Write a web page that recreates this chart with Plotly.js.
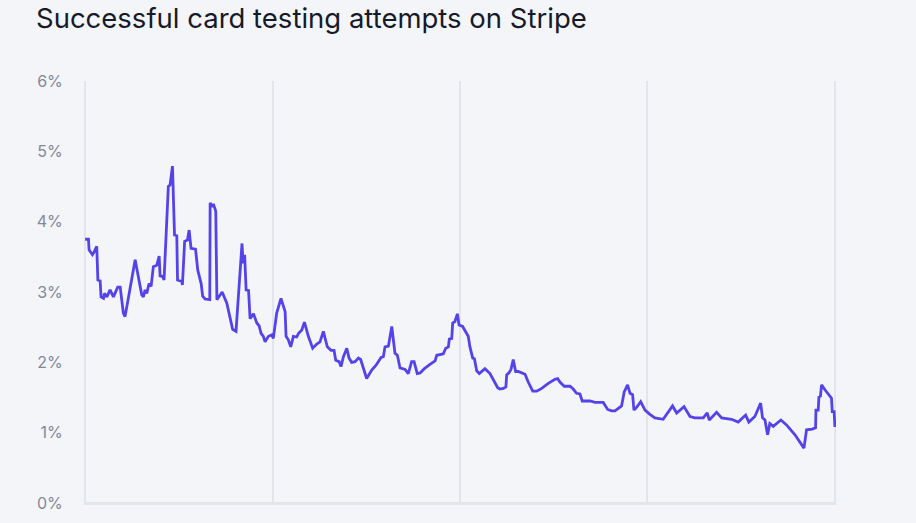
<!DOCTYPE html>
<html>
<head>
<meta charset="utf-8">
<script src="https://cdn.plot.ly/plotly-3.0.1.min.js"></script>
<style>
html,body{margin:0;padding:0;background:#f4f5f9;}
#chart{width:916px;height:523px;}
</style>
</head>
<body>
<div id="chart"></div>
<script>
// Time position (0..400, gridlines every 100) and share of successful card testing attempts (%)
const timeIndex = [0.0,1.8,2.1,3.9,4.8,6.2,6.8,8.0,8.5,9.8,10.3,11.6,13.3,15.1,17.4,18.7,20.4,21.3,26.7,30.2,31.1,32.0,32.9,34.1,35.2,36.4,38.2,39.5,40.0,41.4,42.1,44.4,45.3,46.6,47.7,48.9,49.3,51.6,51.9,53.1,54.6,55.5,56.5,58.9,60.1,61.9,62.7,64.0,66.5,66.7,67.6,68.4,69.7,70.3,73.1,75.6,78.7,80.5,83.7,84.3,85.1,85.9,87.2,88.0,89.8,91.6,92.8,93.9,95.1,96.0,96.8,97.8,99.6,100.4,102.2,104.5,106.7,107.2,108.4,109.7,111.1,112.9,113.8,115.6,117.0,119.1,121.4,123.6,125.3,127.1,129.2,131.2,132.8,133.7,135.5,136.5,137.8,139.6,140.8,142.2,144.0,145.8,147.0,148.4,150.2,152.9,155.2,157.9,159.1,160.0,161.8,163.6,165.3,166.6,168.0,170.7,172.4,174.2,175.5,176.5,177.2,178.7,181.0,184.0,186.7,187.6,191.1,192.4,193.8,194.3,195.6,196.1,197.3,198.6,199.5,201.4,202.7,204.4,205.3,206.8,207.7,208.9,210.3,213.3,216.0,217.8,220.1,221.3,223.1,224.5,224.9,226.1,227.2,228.4,229.7,231.1,234.7,236.4,238.8,240.9,243.6,247.1,250.7,252.1,253.3,255.6,258.7,260.4,262.2,264.0,265.2,266.7,269.3,272.0,276.4,278.8,280.9,282.7,286.2,287.6,289.4,290.7,292.1,292.8,294.2,296.4,298.7,301.3,304.0,308.4,313.4,315.6,319.5,322.7,325.3,329.8,331.9,333.0,336.9,339.6,344.9,348.4,352.4,354.1,357.3,360.4,361.4,362.7,364.1,365.3,367.1,371.2,374.2,378.7,383.5,384.9,387.9,389.7,389.9,391.1,391.5,392.3,392.9,394.7,398.2,398.6,399.6,400.0];
const successRate = [3.75,3.75,3.60,3.53,3.57,3.65,3.17,3.16,2.93,2.91,2.98,2.93,3.03,2.93,3.07,3.07,2.70,2.65,3.46,2.96,2.93,3.03,2.98,3.12,3.08,3.36,3.38,3.51,3.23,3.22,3.17,4.50,4.52,4.79,3.81,3.80,3.17,3.15,3.10,3.72,3.74,3.88,3.62,3.61,3.31,3.12,2.94,2.90,2.89,4.27,4.21,4.25,4.15,2.89,3.00,2.84,2.47,2.44,3.69,3.41,3.53,3.03,3.02,2.62,2.69,2.56,2.52,2.41,2.37,2.29,2.33,2.37,2.39,2.34,2.70,2.91,2.72,2.37,2.32,2.22,2.37,2.36,2.41,2.46,2.57,2.37,2.20,2.26,2.29,2.44,2.22,2.17,2.17,2.03,2.01,1.94,2.08,2.20,2.06,2.00,2.01,2.06,2.04,1.92,1.77,1.89,1.96,2.07,2.08,2.22,2.23,2.51,2.13,2.10,1.92,1.90,1.84,2.01,2.01,1.91,1.84,1.85,1.91,1.97,2.02,2.10,2.12,2.20,2.22,2.33,2.34,2.56,2.58,2.69,2.53,2.51,2.44,2.37,2.22,2.06,2.05,1.88,1.84,1.91,1.84,1.75,1.64,1.62,1.63,1.65,1.82,1.85,1.90,2.04,1.87,1.87,1.83,1.72,1.59,1.59,1.63,1.70,1.76,1.77,1.72,1.66,1.66,1.62,1.56,1.55,1.45,1.45,1.45,1.43,1.43,1.33,1.31,1.31,1.38,1.58,1.68,1.56,1.54,1.32,1.36,1.44,1.32,1.26,1.21,1.19,1.38,1.28,1.37,1.23,1.21,1.21,1.28,1.18,1.29,1.21,1.19,1.15,1.25,1.15,1.23,1.42,1.21,1.18,0.97,1.13,1.09,1.18,1.11,0.97,0.78,1.04,1.05,1.07,1.32,1.32,1.51,1.52,1.68,1.61,1.49,1.30,1.30,1.08];
const yTickValues = [0,1,2,3,4,5,6];
const yTickLabels = ['0%','1%','2%','3%','4%','5%','6%'];
const xGridValues = [0,100,200,300,400];

const trace = {
  x: timeIndex,
  y: successRate,
  type: 'scatter',
  mode: 'lines',
  line: {color: '#5443ea', width: 2.8, shape: 'linear'},
  hoverinfo: 'skip',
  cliponaxis: false
};

const layout = {
  width: 916,
  height: 523,
  paper_bgcolor: '#f4f5f9',
  plot_bgcolor: '#f4f5f9',
  margin: {l: 84, r: 80, t: 81, b: 20},
  showlegend: false,
  title: {
    text: 'Successful card testing attempts on Stripe',
    font: {family: 'Inter, "Open Sans", sans-serif', size: 27.5, color: '#161a29'},
    xref: 'container', yref: 'container',
    x: 36/916, xanchor: 'left',
    y: 1 - 18/523, yanchor: 'middle'
  },
  xaxis: {
    range: [-0.6, 400.6],
    tickvals: xGridValues,
    showticklabels: false,
    ticks: '',
    showgrid: true,
    gridcolor: '#e1e5ec',
    gridwidth: 2,
    zeroline: false,
    showline: false,
    fixedrange: true
  },
  yaxis: {
    range: [0, 6],
    tickvals: yTickValues,
    ticktext: yTickLabels,
    showgrid: false,
    zeroline: true,
    zerolinecolor: '#e1e5ec',
    zerolinewidth: 3,
    showline: false,
    ticks: 'outside',
    ticklen: 17,
    tickcolor: 'rgba(0,0,0,0)',
    tickfont: {family: 'Inter, "Open Sans", sans-serif', size: 16, color: '#80889a'},
    fixedrange: true
  }
};

Plotly.newPlot('chart', [trace], layout, {displayModeBar: false, staticPlot: true});
</script>
</body>
</html>
